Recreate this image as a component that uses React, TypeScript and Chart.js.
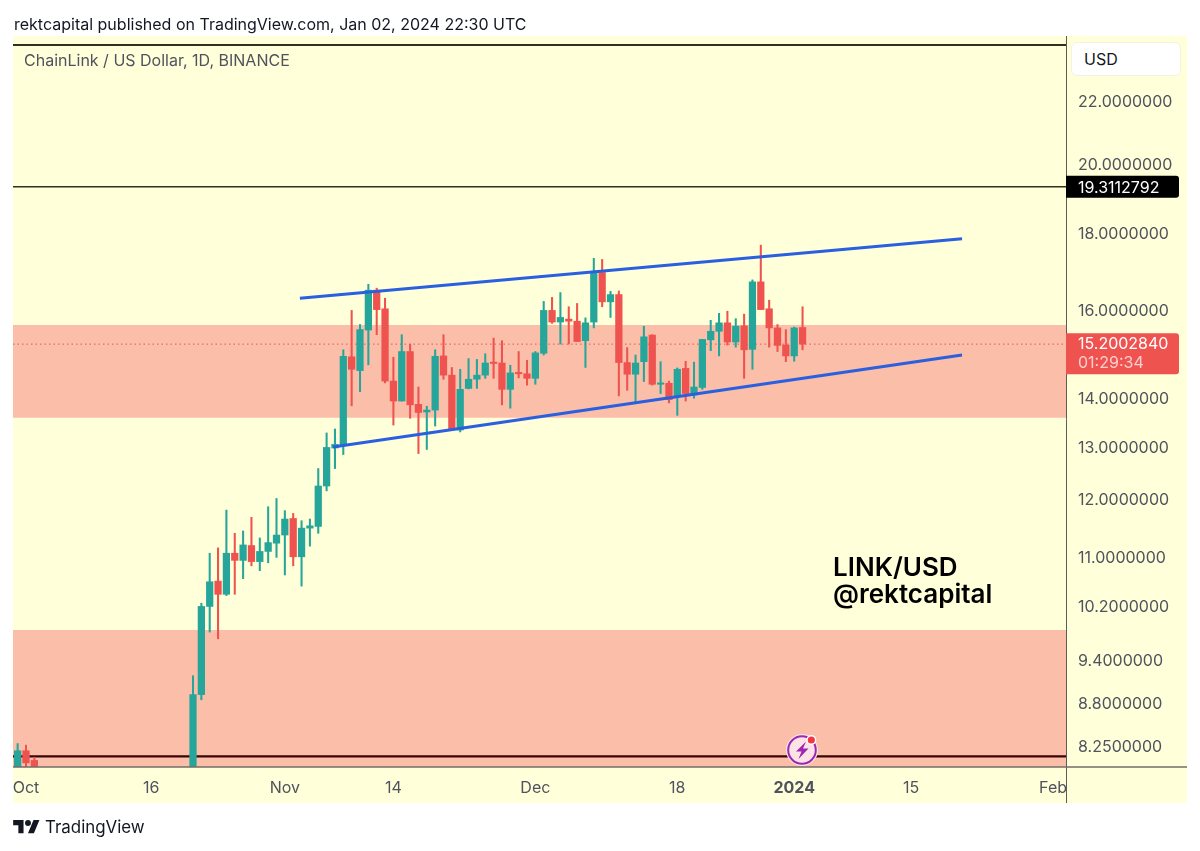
import React, { useEffect, useRef } from "react";
import { Chart, registerables } from "chart.js";

Chart.register(...registerables);

const FONT = "Inter, 'Liberation Sans', sans-serif";

const candleDays = [-1,0,1,20,21,22,23,24,25,26,27,28,29,30,31,32,33,34,35,36,37,38,39,40,41,42,43,44,45,46,47,48,49,50,51,52,53,54,55,56,57,58,59,60,61,62,63,64,65,66,67,68,69,70,71,72,73,74,75,76,77,78,79,80,81,82,83,84,85,86,87,88,89,90,91,92,93];
const opens = [7.95,8.19,8.07,7.6,8.92,10.2,10.6,10.39,11.06,10.94,11.19,10.92,11.09,11.23,11.37,11.66,11.0,11.49,11.52,12.25,12.98,13.04,14.91,14.6,15.53,16.5,16.04,14.37,13.94,15.03,13.87,13.71,13.75,14.93,14.5,13.34,14.21,14.41,14.5,14.79,14.77,14.19,14.56,14.53,14.43,14.99,16.0,15.72,15.79,15.74,15.28,15.72,16.95,16.21,16.39,14.78,14.52,14.8,15.41,14.3,14.32,14.04,14.65,14.07,14.23,15.3,15.5,15.7,15.25,15.63,15.08,16.71,16.04,15.58,15.18,14.93,15.59];
const highs = [8.28,8.26,8.11,9.18,10.25,11.06,11.15,11.81,11.4,11.44,11.68,11.32,11.87,12.02,11.8,11.75,11.62,11.65,12.58,13.28,13.36,15.07,16.0,15.66,16.65,16.55,16.3,14.9,15.42,15.2,14.24,13.83,15.07,15.42,14.67,14.63,14.87,14.85,14.98,15.34,15.28,14.72,15.03,14.83,15.03,16.22,16.32,16.44,16.09,16.17,15.82,17.32,17.29,16.47,16.48,15.12,14.95,15.62,15.42,14.8,14.37,14.66,14.81,14.79,15.31,15.76,15.93,15.98,15.8,15.91,16.76,17.67,16.25,15.66,15.54,15.6,16.09];
const lows = [7.9,7.95,7.8,7.5,8.85,9.81,9.71,10.37,10.39,10.64,10.85,10.77,10.9,10.99,10.7,10.85,10.52,11.18,11.4,12.16,12.58,12.85,13.84,14.14,14.73,15.42,14.33,13.44,13.94,13.58,12.87,12.95,13.42,14.41,13.34,13.3,14.2,14.21,14.43,14.43,13.86,13.79,14.44,14.28,14.3,14.95,15.69,15.2,15.2,15.26,14.67,15.58,16.09,15.83,14.05,14.17,13.91,14.36,14.28,14.1,13.9,13.64,13.94,14.0,14.19,15.05,14.93,15.18,15.13,14.43,14.63,16.02,15.13,15.03,14.8,14.81,15.07];
const closes = [8.19,8.04,7.85,8.92,10.2,10.59,10.39,11.06,10.94,11.2,10.92,11.09,11.24,11.37,11.65,11.0,11.49,11.53,12.25,12.99,13.05,14.92,14.63,15.54,16.5,16.02,14.37,13.94,15.03,13.86,13.7,13.75,14.92,14.5,13.35,14.19,14.41,14.5,14.77,14.76,14.19,14.55,14.53,14.43,15.0,16.0,15.72,15.83,15.74,15.26,15.7,16.95,16.21,16.39,14.78,14.52,14.77,15.37,14.3,14.33,13.97,14.63,14.1,14.24,15.31,15.5,15.7,15.25,15.62,15.07,16.71,16.02,15.58,15.17,14.93,15.58,15.2];

const priceTicks = [22, 20, 18, 16, 14, 13, 12, 11, 10.2, 9.4, 8.8, 8.25];
const timeTickDays = [0, 15, 31, 44, 61, 78, 92, 106, 123];
const timeTickLabels = ["Oct", "16", "Nov", "14", "Dec", "18", "2024", "15", "Feb"];

const supplyZone = [13.59, 15.65];
const demandZone = [7.5, 9.84];
const levelTop = 23.96;
const levelMid = 19.3112792;
const levelLow = 8.12;
const lastPrice = 15.200284;
const upperTrend = [{ x: 32.8, y: 16.3 }, { x: 112.1, y: 17.84 }];
const lowerTrend = [{ x: 36.77, y: 13.0 }, { x: 112.1, y: 14.95 }];
const xRange = [-1.557, 124.55];
const yRange = [7.99, 24.25];

const GREEN = "#26a69a";
const RED = "#ef5350";
const PANEL = "#ffffd9";
const ZONE = "#fbbea8";
const INK = "#50535e";

const hLine = (v: number) => [{ x: xRange[0], y: v }, { x: xRange[1], y: v }];

const chromePlugin = {
  id: "chrome",
  beforeDraw(chart: any) {
    const { ctx, chartArea: a, scales } = chart;
    ctx.save();
    ctx.fillStyle = PANEL;
    ctx.fillRect(a.left, a.top - 1, scales.y.right - a.left, scales.x.bottom - a.top + 1);
    ctx.restore();
  },
  afterDraw(chart: any) {
    const { ctx, chartArea: a, scales } = chart;
    const y = scales.y;
    ctx.save();
    ctx.strokeStyle = "#5c5c55";
    ctx.lineWidth = 1;
    ctx.beginPath();
    ctx.moveTo(a.right + 0.5, a.top - 1);
    ctx.lineTo(a.right + 0.5, scales.x.bottom);
    ctx.stroke();
    ctx.strokeStyle = "#756c66";
    ctx.lineWidth = 1.4;
    ctx.beginPath();
    ctx.moveTo(a.left, a.bottom);
    ctx.lineTo(y.right, a.bottom);
    ctx.stroke();

    const tag = (top: number, h: number, fill: string) => {
      ctx.fillStyle = fill;
      ctx.beginPath();
      ctx.roundRect(a.right, top, 113, h, [0, 3, 3, 0]);
      ctx.fill();
    };
    ctx.textBaseline = "middle";
    ctx.textAlign = "left";
    ctx.font = `16px ${FONT}`;

    const py = y.getPixelForValue(levelMid);
    tag(py - 11, 22, "#000000");
    ctx.fillStyle = "#ffffff";
    ctx.fillText(levelMid.toFixed(7), a.right + 12, py + 1);

    const ly = y.getPixelForValue(lastPrice);
    tag(ly - 11, 41, RED);
    ctx.fillStyle = "#ffffff";
    ctx.fillText(lastPrice.toFixed(7), a.right + 12, ly + 0.5);
    ctx.fillStyle = "rgba(255,255,255,0.72)";
    ctx.fillText("01:29:34", a.right + 12, ly + 19.5);
    ctx.restore();
  },
};

function line(data: any[], color: string, width: number, order: number, extra: any = {}) {
  return { type: "line", data, borderColor: color, borderWidth: width, pointRadius: 0, fill: false, order, ...extra };
}

function zone(range: number[], order: number) {
  return {
    type: "line",
    data: hLine(range[1]),
    borderWidth: 0,
    pointRadius: 0,
    order,
    fill: { target: { value: range[0] }, above: ZONE, below: ZONE },
  };
}

export default function App() {
  const ref = useRef<HTMLCanvasElement | null>(null);
  useEffect(() => {
    if (!ref.current) return;
    const colors = opens.map((o, i) => (closes[i] >= o ? GREEN : RED));
    const chart = new Chart(ref.current, {
      type: "bar",
      data: {
        datasets: [
          zone(supplyZone, 20),
          zone(demandZone, 19),
          line(hLine(levelTop), "#2f2f22", 2, 9),
          line(hLine(levelMid), "#2f2f22", 1.6, 9),
          line(hLine(levelLow), "#3a0505", 2.4, 9),
          line(hLine(lastPrice), RED, 1, 8, { borderDash: [1.5, 3] }),
          {
            type: "bar",
            data: candleDays.map((d, i) => ({ x: d, y: [lows[i], highs[i]] })),
            backgroundColor: colors,
            barThickness: 1.4,
            grouped: false,
            order: 5,
          },
          {
            type: "bar",
            data: candleDays.map((d, i) => ({ x: d, y: [Math.min(opens[i], closes[i]), Math.max(opens[i], closes[i])] })),
            backgroundColor: colors,
            barThickness: 6.6,
            grouped: false,
            order: 4,
          },
          line(upperTrend, "#2a5fe0", 3, 1),
          line(lowerTrend, "#2a5fe0", 3, 1),
        ] as any,
      },
      options: {
        responsive: false,
        animation: false,
        layout: { padding: { left: 13, top: 37, right: 13, bottom: 48 } },
        plugins: { legend: { display: false }, tooltip: { enabled: false }, title: { display: false } },
        scales: {
          x: {
            type: "linear",
            offset: false,
            min: xRange[0],
            max: xRange[1],
            grid: { display: false, drawTicks: false },
            border: { display: false },
            afterFit: (s: any) => { s.height = 36; },
            afterBuildTicks: (s: any) => { s.ticks = timeTickDays.map((v) => ({ value: v })); },
            ticks: {
              autoSkip: false,
              maxRotation: 0,
              padding: 12,
              color: INK,
              font: (c: any) => ({ family: FONT, size: 16, weight: c.tick && c.tick.value === 92 ? "700" : "400" }),
              callback: (v: any) => timeTickLabels[timeTickDays.indexOf(Number(v))],
            },
          },
          y: {
            type: "logarithmic",
            position: "right",
            min: yRange[0],
            max: yRange[1],
            grid: { display: false, drawTicks: false },
            border: { display: false },
            afterFit: (s: any) => { s.width = 121; },
            afterBuildTicks: (s: any) => { s.ticks = priceTicks.map((v) => ({ value: v })); },
            ticks: {
              autoSkip: false,
              padding: 12,
              labelOffset: 1,
              color: INK,
              font: { family: FONT, size: 16 },
              callback: (v: any) => Number(v).toFixed(7),
            },
          },
        },
      } as any,
      plugins: [chromePlugin as any],
    });
    return () => chart.destroy();
  }, []);

  const abs = (x: number, y: number, extra: any = {}): any => ({
    position: "absolute",
    left: x,
    top: y,
    fontFamily: FONT,
    lineHeight: "20px",
    whiteSpace: "nowrap",
    ...extra,
  });

  return (
    <div style={{ position: "absolute", left: 0, top: 0, width: 1200, height: 851, overflow: "hidden", background: "#fff" }}>
      <canvas ref={ref} width={1200} height={851} />
      <div style={abs(14, 14, { fontSize: 16, color: "#131722" })}>rektcapital published on TradingView.com, Jan 02, 2024 22:30 UTC</div>
      <div style={abs(24, 50, { fontSize: 16, color: INK })}>ChainLink / US Dollar, 1D, BINANCE</div>
      <div style={abs(1071, 42, { width: 110, height: 34, boxSizing: "border-box", background: "#fff", border: "1px solid #f1f1e4", borderRadius: 6, fontSize: 16, lineHeight: "32px", paddingLeft: 12, color: "#131722" })}>USD</div>
      <div style={abs(833, 553, { fontSize: 26, lineHeight: "27px", fontWeight: 600, color: "#000" })}>LINK/USD<br />@rektcapital</div>
      <svg style={{ position: "absolute", left: 784, top: 732 }} width="36" height="36" viewBox="0 0 36 36">
        <circle cx="18" cy="18" r="16" fill="#fbe3e6" />
        <circle cx="18" cy="18" r="13.8" fill="none" stroke="#9c27b0" strokeWidth="2" />
        <path d="M22 9.5 L12 19.5 H17.5 L14.5 27 L24.5 16.5 H19 Z" fill="#9c27b0" />
        <circle cx="27.3" cy="8" r="5" fill="#fff" />
        <circle cx="27.3" cy="8" r="3.6" fill="#f23645" />
      </svg>
      <svg style={{ position: "absolute", left: 13, top: 817 }} width="27" height="20" viewBox="0 0 36 27">
        <path d="M14 22H7V11H0V4h14v18zM28 22h-8l7.5-18h8L28 22z" fill="#131722" />
        <circle cx="20" cy="8" r="4" fill="#131722" />
      </svg>
      <div style={abs(45, 817, { fontSize: 16.9, color: "#131722" })}>TradingView</div>
    </div>
  );
}
